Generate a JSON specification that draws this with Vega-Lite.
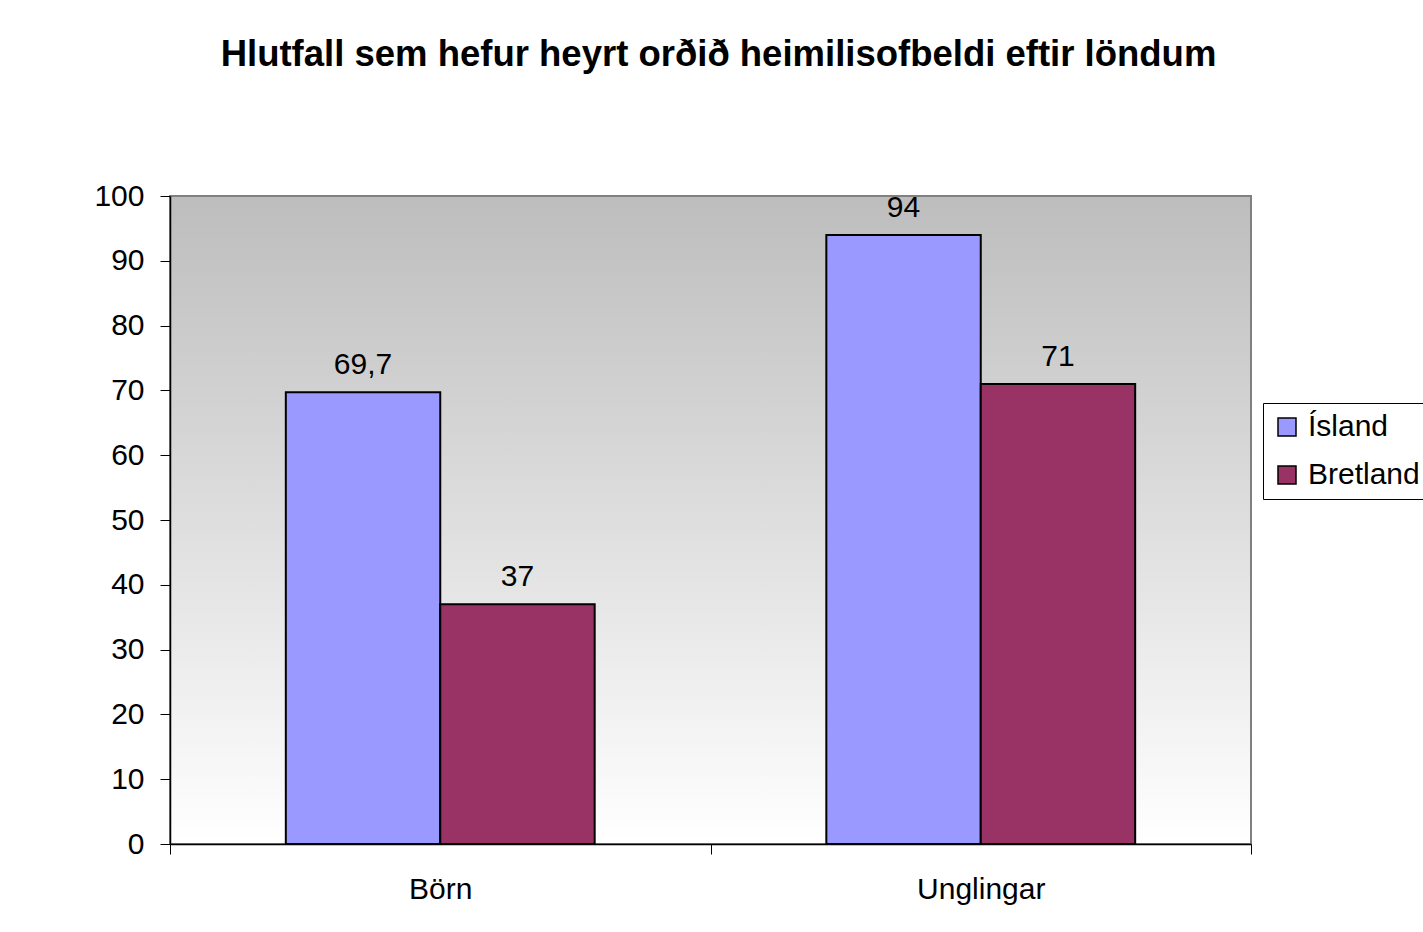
{
  "$schema": "https://vega.github.io/schema/vega-lite/v6.json",
  "width": 1081,
  "height": 648,
  "autosize": {"type": "none"},
  "padding": {"left": 170, "top": 196, "right": 172, "bottom": 88},
  "background": "white",
  "title": {
    "text": "Hlutfall sem hefur heyrt orðið heimilisofbeldi eftir löndum",
    "fontSize": 36.5,
    "fontWeight": "bold",
    "font": "Liberation Sans",
    "color": "black",
    "anchor": "middle",
    "dx": 8,
    "offset": 108
  },
  "config": {
    "font": "Liberation Sans",
    "locale": {"number": {"decimal": ",", "thousands": ".", "grouping": [3], "currency": ["", " kr."]}},
    "view": {
      "stroke": "#808080",
      "strokeWidth": 2,
      "fill": {
        "gradient": "linear",
        "x1": 0, "y1": 0, "x2": 0, "y2": 1,
        "stops": [
          {"offset": 0, "color": "#bdbdbd"},
          {"offset": 1, "color": "#ffffff"}
        ]
      }
    }
  },
  "data": {
    "values": [
      {"hopur": "Börn", "land": "Ísland", "gildi": 69.7},
      {"hopur": "Börn", "land": "Bretland", "gildi": 37},
      {"hopur": "Unglingar", "land": "Ísland", "gildi": 94},
      {"hopur": "Unglingar", "land": "Bretland", "gildi": 71}
    ]
  },
  "encoding": {
    "x": {
      "field": "hopur",
      "type": "nominal",
      "sort": ["Börn", "Unglingar"],
      "scale": {"paddingInner": 0, "paddingOuter": 0},
      "axis": {
        "title": null,
        "labelAngle": 0,
        "labelFontSize": 30,
        "labelColor": "black",
        "labelPadding": 20,
        "tickBand": "extent",
        "tickSize": 10,
        "tickColor": "black",
        "domainColor": "black",
        "domainWidth": 1.5,
        "grid": false
      }
    },
    "xOffset": {
      "field": "land",
      "sort": ["Ísland", "Bretland"],
      "scale": {"paddingInner": 0, "paddingOuter": 0.75}
    },
    "y": {
      "field": "gildi",
      "type": "quantitative",
      "scale": {"domain": [0, 100], "nice": false},
      "axis": {
        "title": null,
        "values": [0, 10, 20, 30, 40, 50, 60, 70, 80, 90, 100],
        "labelFontSize": 30,
        "labelColor": "black",
        "labelPadding": 16,
        "tickSize": 10,
        "tickColor": "black",
        "domainColor": "black",
        "domainWidth": 1.5,
        "grid": false
      }
    }
  },
  "layer": [
    {
      "mark": {"type": "bar", "stroke": "black", "strokeWidth": 2},
      "encoding": {
        "color": {
          "field": "land",
          "type": "nominal",
          "sort": ["Ísland", "Bretland"],
          "scale": {"domain": ["Ísland", "Bretland"], "range": ["#9999ff", "#993366"]},
          "legend": {
            "title": null,
            "orient": "none",
            "legendX": 1093,
            "legendY": 207,
            "strokeColor": "black",
            "fillColor": "white",
            "padding": 9,
            "symbolType": "square",
            "symbolSize": 324,
            "symbolStrokeColor": "black",
            "symbolStrokeWidth": 1.5,
            "symbolOpacity": 1,
            "labelFontSize": 30,
            "labelColor": "black",
            "labelOffset": 6,
            "rowPadding": 18
          }
        }
      }
    },
    {
      "mark": {"type": "text", "fontSize": 30, "color": "black", "baseline": "alphabetic", "dy": -18},
      "encoding": {
        "text": {"field": "gildi", "type": "quantitative", "format": ".1~f"}
      }
    }
  ]
}
